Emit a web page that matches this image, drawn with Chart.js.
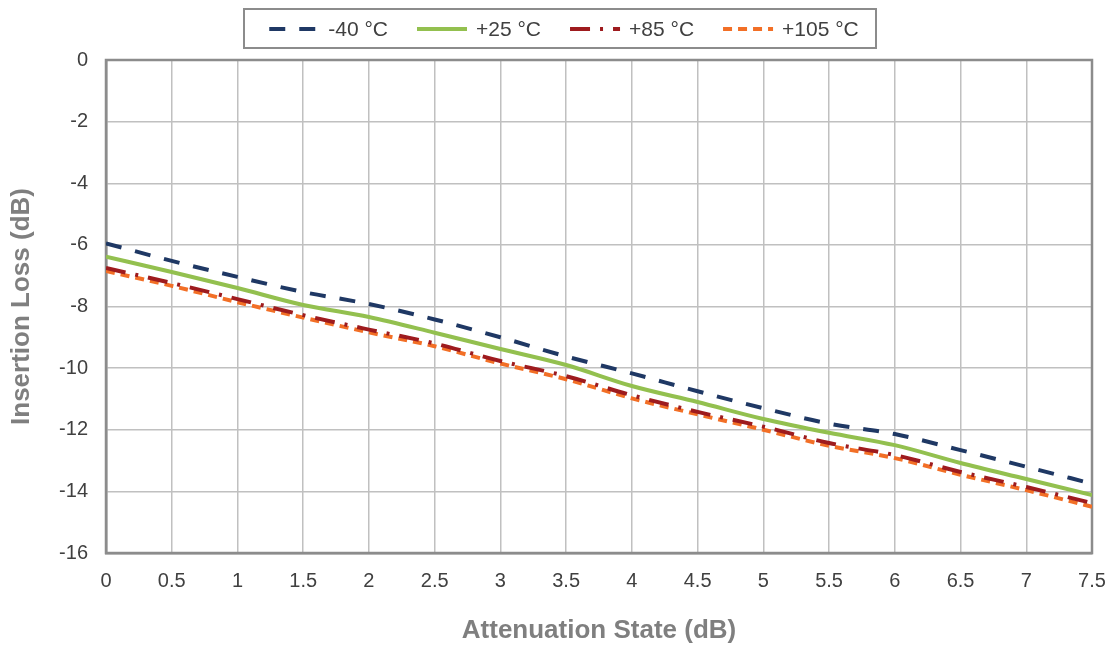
<!DOCTYPE html>
<html>
<head>
<meta charset="utf-8">
<script src="https://cdn.jsdelivr.net/npm/chart.js@4"></script>
<style>
  html, body { margin: 0; padding: 0; background: #fff; }
  #wrap { width: 1114px; height: 648px; }
</style>
</head>
<body>
<div id="wrap"><canvas id="lossChart" width="1114" height="648"></canvas></div>
<script>
// Attenuation states (dB)
const attenStates = [0, 0.5, 1, 1.5, 2, 2.5, 3, 3.5, 4, 4.5, 5, 5.5, 6, 6.5, 7, 7.5];

// Insertion loss (dB) per temperature
const lossM40 = [-5.95, -6.52, -7.04, -7.53, -7.92, -8.42, -9.0, -9.62, -10.17, -10.75, -11.3, -11.8, -12.14, -12.66, -13.2, -13.75];
const lossP25 = [-6.38, -6.88, -7.4, -7.95, -8.34, -8.85, -9.38, -9.9, -10.58, -11.1, -11.65, -12.1, -12.5, -13.08, -13.6, -14.12];
const lossP85 = [-6.75, -7.24, -7.76, -8.28, -8.75, -9.2, -9.77, -10.26, -10.88, -11.42, -11.9, -12.43, -12.82, -13.37, -13.86, -14.38];
const lossP105 = [-6.85, -7.33, -7.86, -8.36, -8.84, -9.29, -9.85, -10.36, -10.98, -11.5, -12.0, -12.52, -12.92, -13.46, -13.96, -14.5];

const seriesNames = ["-40 °C", "+25 °C", "+85 °C", "+105 °C"];

const FONT = "'Liberation Sans', Arial, sans-serif";

const toPoints = (ys) => ys.map((y, i) => ({ x: attenStates[i], y: y }));

// rysuje ramke wykresu (gora/prawo ciemniejsze)
const frameBox = {
  id: "frameBox",
  beforeDatasetsDraw(chart) {
    const { ctx, chartArea: a } = chart;
    ctx.save();
    ctx.strokeStyle = "#8c8c8c";
    ctx.lineWidth = 2.5;
    ctx.strokeRect(a.left, a.top, a.right - a.left, a.bottom - a.top);
    ctx.restore();
  },
};

// legenda w ramce, u gory
const boxedLegend = {
  id: "boxedLegend",
  afterDraw(chart) {
    const ctx = chart.ctx;
    const sets = chart.data.datasets;
    ctx.save();
    ctx.font = "21px " + FONT;
    const lineLen = 50, gap = 9, spacing = 29;
    const widths = sets.map((d) => ctx.measureText(d.label).width);
    const total = widths.reduce((s, w) => s + lineLen + gap + w, 0) + spacing * (sets.length - 1);
    let x = 564 - total / 2;
    const y = 29;

    ctx.strokeStyle = "#8c8c8c";
    ctx.lineWidth = 2;
    ctx.strokeRect(244, 9, 632, 39);

    sets.forEach((d, i) => {
      ctx.beginPath();
      ctx.strokeStyle = d.borderColor;
      ctx.lineWidth = d.borderWidth;
      ctx.setLineDash(d.borderDash || []);
      ctx.moveTo(x, y);
      ctx.lineTo(x + lineLen, y);
      ctx.stroke();
      ctx.setLineDash([]);
      ctx.fillStyle = "#404040";
      ctx.textBaseline = "middle";
      ctx.fillText(d.label, x + lineLen + gap, y + 1);
      x += lineLen + gap + widths[i] + spacing;
    });
    ctx.restore();
  },
};

const ctx = document.getElementById("lossChart").getContext("2d");
const lossChart = new Chart(ctx, {
  type: "line",
  data: {
    datasets: [
      {
        label: seriesNames[0],
        data: toPoints(lossM40),
        borderColor: "#1f3864",
        borderWidth: 4,
        borderDash: [16, 14],
      },
      {
        label: seriesNames[1],
        data: toPoints(lossP25),
        borderColor: "#93c04f",
        borderWidth: 4,
      },
      {
        label: seriesNames[2],
        data: toPoints(lossP85),
        borderColor: "#9e1b1e",
        borderWidth: 4,
        borderDash: [20, 10, 3, 10],
      },
      {
        label: seriesNames[3],
        data: toPoints(lossP105),
        borderColor: "#f26f26",
        borderWidth: 4,
        borderDash: [9, 6],
      },
    ],
  },
  options: {
    responsive: false,
    animation: false,
    layout: { padding: { top: 60, right: 22, bottom: 0, left: 0 } },
    elements: {
      point: { radius: 0 },
      line: { cubicInterpolationMode: "monotone", fill: false },
    },
    plugins: {
      legend: { display: false },
      tooltip: { enabled: false },
    },
    scales: {
      x: {
        type: "linear",
        min: 0,
        max: 7.5,
        ticks: {
          stepSize: 0.5,
          color: "#404040",
          font: { family: FONT, size: 20 },
          padding: 16,
          maxRotation: 0,
          callback: (v) => String(v),
        },
        grid: { color: "#c0c0c0", lineWidth: 1.5, drawTicks: false },
        border: { color: "#8c8c8c", width: 2.5 },
        title: {
          display: true,
          text: "Attenuation State (dB)",
          color: "#7f7f7f",
          font: { family: FONT, size: 26, weight: "bold" },
          padding: { top: 0, bottom: 2 },
        },
        afterFit: (scale) => {
          scale.height = 95;
          scale.paddingLeft = 0;
          scale.paddingRight = 0;
        },
      },
      y: {
        min: -16,
        max: 0,
        ticks: {
          stepSize: 2,
          color: "#404040",
          font: { family: FONT, size: 20 },
          padding: 18,
        },
        grid: { color: "#c0c0c0", lineWidth: 1.5, drawTicks: false },
        border: { color: "#8c8c8c", width: 2.5 },
        title: {
          display: true,
          text: "Insertion Loss (dB)",
          color: "#7f7f7f",
          font: { family: FONT, size: 26, weight: "bold" },
          padding: { top: 6, bottom: 0 },
        },
        afterFit: (scale) => {
          scale.width = 106;
          scale.paddingTop = 0;
          scale.paddingBottom = 0;
        },
      },
    },
  },
  plugins: [frameBox, boxedLegend],
});
</script>
</body>
</html>
